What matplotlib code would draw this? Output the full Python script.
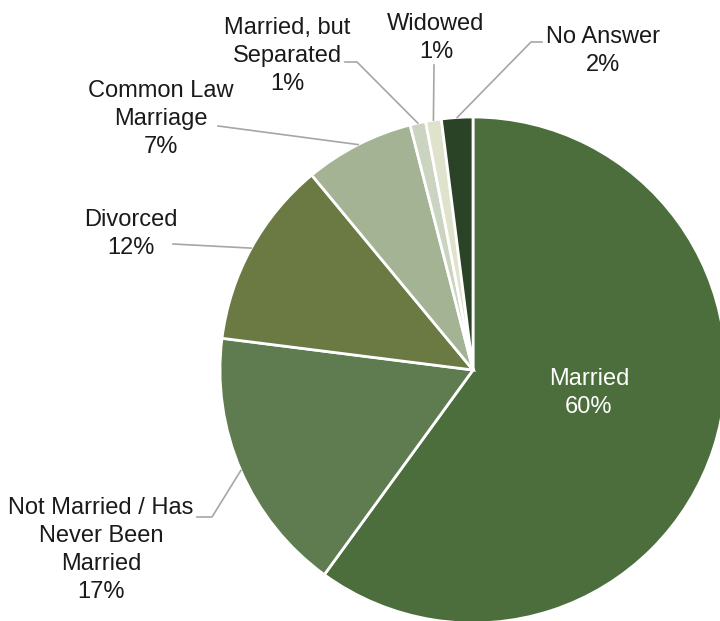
import numpy as np
import matplotlib.pyplot as plt

# Дані діаграми ------------------------------------
categories = ['Married', 'Not Married / Has\nNever Been\nMarried', 'Divorced',
              'Common Law\nMarriage', 'Married, but\nSeparated', 'Widowed', 'No Answer']
shares = [60, 17, 12, 7, 1, 1, 2]
colors = ['#4b6e3c', '#5f7b50', '#6b7a43', '#a3b394', '#cbd3c1', '#dfe3cc', '#2a4226']

# Розміщення підписів (пікселі, y вниз) і точки виносок
label_xy = [(589, 393), (101, 550), (131, 234), (161, 119), (287, 56), (436, 38), (603, 51)]
leader_pts = [None, [(197, 517), (212, 517)], [(173, 244)], [(218, 126)],
              [(345, 62), (357, 62)], [(434, 65)], [(542, 42), (531, 42)]]

W, H = 720, 621
cx, cy, R = 473, 370, 253

plt.rcParams['font.family'] = ['Liberation Sans', 'DejaVu Sans']
fig = plt.figure(figsize=(W / 100, H / 100), dpi=100)
ax = fig.add_axes([0, 0, 1, 1])

wedges, _ = ax.pie(shares, colors=colors, startangle=90, counterclock=False,
                   center=(cx, H - cy), radius=R,
                   wedgeprops=dict(edgecolor='white', linewidth=2))
ax.set_xlim(0, W); ax.set_ylim(0, H)
ax.set_aspect('equal')
ax.axis('off')

for i, w in enumerate(wedges):
  pct = f'{shares[i]}%'
  tx, ty = label_xy[i]
  col = 'white' if i == 0 else '#1a1a1a'
  ax.text(tx, H - ty, f'{categories[i]}\n{pct}', ha='center', va='center',
          fontsize=17, color=col, linespacing=1.35)
  if leader_pts[i] is None:
    continue
  mid = np.deg2rad((w.theta1 + w.theta2) / 2)
  ex, ey = cx + R * np.cos(mid), (H - cy) + R * np.sin(mid)
  xs = [p[0] for p in leader_pts[i]] + [ex]
  ys = [H - p[1] for p in leader_pts[i]] + [ey]
  ax.plot(xs, ys, color='#a6a6a6', lw=1.2)

fig.savefig('out.png', dpi=100)
